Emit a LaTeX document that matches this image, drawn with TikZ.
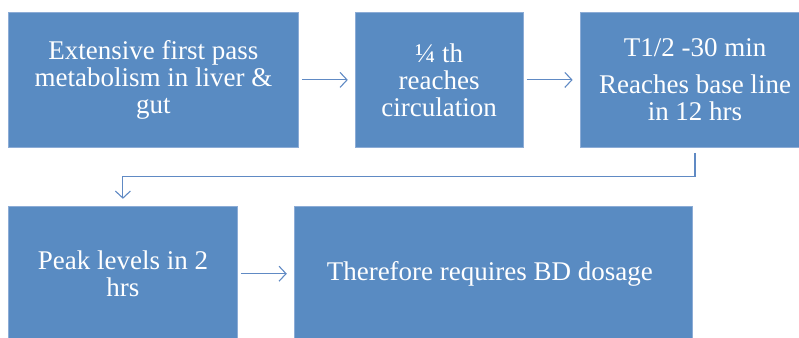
\documentclass[tikz,border=0pt]{standalone}
\usepackage{fontspec}
\setmainfont{Liberation Serif}
\usetikzlibrary{positioning,arrows.meta}
\definecolor{flowFill}{RGB}{89,139,194}
\definecolor{flowEdge}{RGB}{140,172,214}
\definecolor{flowArrow}{RGB}{96,138,196}

\begin{document}
\begin{tikzpicture}[
    stage/.style={draw=flowEdge, line width=0.8pt, fill=flowFill, align=center,
      minimum height=135pt, inner sep=0pt, text=white,
      font=\fontsize{27}{27}\selectfont},
    link/.style={-{Straight Barb[length=7pt,width=15pt]}, line width=1.1pt,
      color=flowArrow, shorten <=3pt, shorten >=7pt}
  ]
    \useasboundingbox (0pt,0pt) rectangle (799pt,-337pt);

    \node[stage, minimum width=290pt, anchor=north west] (firstpass) at (8pt,-12pt) {
      Extensive first pass\\
      metabolism in liver \&\\
      gut
    };

    \node[stage, minimum width=168pt, right=56pt of firstpass] (quarter) {
      ¼ th\\
      reaches\\
      circulation
    };

    \node[stage, minimum width=230pt, right=56pt of quarter] (halflife) {
      T1/2 -30 min\\[10pt]
      Reaches base line\\
      in 12 hrs
    };

    \node[stage, minimum width=229pt, below=58pt of firstpass.south west,
      anchor=north west] (peak) {
      Peak levels in 2\\
      hrs
    };

    \node[stage, minimum width=398pt, right=56pt of peak] (dosage) {
      Therefore requires BD dosage
    };

    \draw[link] (firstpass) -- (quarter);
    \draw[link] (quarter) -- (halflife);
    \draw[link, shorten <=5pt] (halflife.south) -- ++(0,-29pt) -| (peak.north);
    \draw[link] (peak) -- (dosage);
  \end{tikzpicture}
\end{document}
